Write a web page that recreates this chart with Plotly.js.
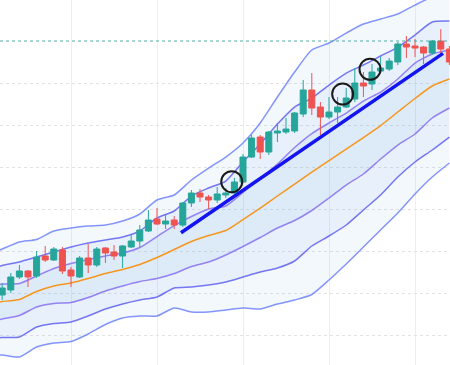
<!DOCTYPE html>
<html>
<head>
<meta charset="utf-8">
<script src="https://cdn.plot.ly/plotly-3.0.1.min.js"></script>
<style>html,body{margin:0;padding:0;background:#fff;}#chart{width:450px;height:365px;}</style>
</head>
<body>
<div id="chart"></div>
<script>
// candle positions (session index)
const sessions = [0,1,2,3,4,5,6,7,8,9,10,11,12,13,14,15,16,17,18,19,20,21,22,23,24,25,26,27,28,29,30,31,32,33,34,35,36,37,38,39,40,41,42,43,44,45,46,47,48,49,50,51,52];
const openP  = [109.74,110.93,114.01,115.44,114.25,119.00,118.05,120.43,115.68,114.01,118.53,116.86,120.90,119.95,119.00,121.14,122.56,124.94,127.79,126.60,127.55,126.36,131.59,133.96,133.01,132.30,133.49,133.96,136.58,142.51,147.26,143.70,148.21,148.45,148.69,152.73,158.43,154.39,152.01,153.20,154.39,156.29,160.09,159.85,162.94,163.41,165.08,169.35,168.88,168.64,167.21,170.06,168.16];
const highP  = [112.59,114.96,116.86,115.68,120.19,121.38,121.14,121.14,116.39,119.00,121.85,121.14,121.14,121.61,121.61,123.99,126.36,129.93,130.40,128.98,128.50,131.83,134.68,134.91,133.49,135.39,135.15,137.53,143.23,147.74,147.74,148.69,150.59,151.78,153.20,160.80,162.46,155.58,156.76,156.76,158.90,163.65,162.70,164.60,166.26,166.03,169.83,171.25,170.54,168.88,170.30,172.91,168.88];
const lowP   = [108.55,110.21,113.54,111.64,113.78,117.58,117.81,114.73,111.64,113.78,114.96,116.39,117.34,118.05,116.15,120.90,121.14,124.70,126.36,125.41,125.41,125.89,130.64,131.83,130.16,131.59,132.78,133.73,136.34,142.28,142.04,142.99,146.08,147.98,148.21,152.01,152.49,147.74,151.54,150.59,154.15,155.58,156.76,158.43,162.46,162.94,164.36,166.03,166.26,164.60,166.74,167.21,164.36];
const closeP = [111.40,114.01,115.44,114.01,118.76,118.05,120.66,115.44,114.25,118.53,116.86,120.66,119.71,119.00,121.38,122.56,125.18,127.55,126.60,127.31,126.36,131.59,133.96,133.01,132.30,133.73,133.96,136.58,142.51,147.03,143.70,148.45,148.69,149.16,152.96,158.43,154.15,152.01,153.20,154.39,156.53,160.09,159.38,162.70,163.65,165.31,169.35,168.64,168.40,167.21,170.06,168.16,165.08];

// band lines, read at every second session
const bandX  = [-0.3,0,2,4,6,8,10,12,14,16,18,20,22,24,26,28,30,32,34,36,38,40,42,44,46,48,50,52];
const maLine = [108.08,108.19,108.67,110.57,111.88,112.59,113.66,114.84,115.79,116.98,118.64,120.54,122.44,123.87,125.06,127.67,130.40,133.25,136.10,138.95,141.68,144.41,147.14,149.99,153.20,156.41,159.38,161.04];
const upper1 = [112.23,112.35,112.47,114.25,116.03,117.22,118.17,119.00,119.71,121.02,123.63,126.24,128.38,130.16,130.88,134.08,137.41,140.85,144.77,148.09,150.59,152.96,155.81,157.95,161.04,164.84,166.98,167.93];
const lower1 = [103.92,104.04,104.87,106.89,107.72,107.96,109.14,110.69,111.88,112.94,113.66,114.84,116.51,117.58,119.24,121.26,123.39,125.65,127.43,129.81,132.78,135.86,138.48,142.04,145.36,147.98,151.78,154.15];
const upper2 = [116.55,116.74,117.58,118.76,119.95,121.14,122.09,122.80,123.51,124.94,128.03,129.69,133.25,135.15,136.81,141.33,145.60,150.35,154.39,156.53,159.61,162.46,164.36,166.50,168.64,171.49,174.58,174.81];
const lower2 = [99.60,99.64,99.76,102.14,102.97,103.33,104.75,106.41,107.60,108.55,109.26,111.40,111.64,112.11,112.83,114.01,115.20,116.15,117.81,121.38,123.75,126.36,129.93,133.49,137.76,141.33,144.18,147.26];
const upper3 = [120.43,120.66,122.33,122.92,124.94,125.65,126.13,126.36,127.31,128.98,132.30,133.49,137.05,139.90,142.51,145.84,150.59,156.76,162.70,167.93,169.59,171.96,174.10,175.29,176.48,178.61,180.51,180.99];
const lower3 = [95.49,95.49,95.01,97.39,98.34,98.69,100.48,102.73,104.28,104.75,104.75,106.65,105.70,105.70,106.18,106.65,106.41,107.60,108.55,109.86,113.30,117.10,121.14,125.18,129.21,133.73,137.76,141.09];

// trend line end points
const trendX = [20.79, 51.26];
const trendY = [124.53, 167.14];
// highlighted spots
const markX = [26.69, 39.59, 42.77];
const markY = [136.65, 157.48, 163.34];
// resistance level
const levelY = 170.1;

const fillCol = 'rgba(100,170,230,0.08)';
const c1 = 'rgba(135,110,240,0.85)';
const c2 = 'rgba(95,95,240,0.85)';
const c3 = 'rgba(110,130,250,0.85)';

function band(y, color, fill) {
  return {x: bandX, y: y, type: 'scatter', mode: 'lines', hoverinfo: 'skip',
    line: {color: color, width: 1.5, shape: 'spline', smoothing: 0.6},
    fill: fill ? 'tonexty' : 'none', fillcolor: fillCol};
}

const traces = [
  band(upper3, c3, false), band(lower3, c3, true),
  band(upper2, c2, false), band(lower2, c2, true),
  band(upper1, c1, false), band(lower1, c1, true),
  {x: bandX, y: maLine, type: 'scatter', mode: 'lines', line: {color: '#f5961e', width: 1.5, shape: 'spline', smoothing: 0.6}},
  {x: sessions, open: openP, high: highP, low: lowP, close: closeP, type: 'candlestick', yaxis: 'y2',
    increasing: {line: {color: '#26a69a', width: 1}, fillcolor: '#26a69a'},
    decreasing: {line: {color: '#ef5350', width: 1}, fillcolor: '#ef5350'}},
  {x: trendX, y: trendY, type: 'scatter', mode: 'lines', yaxis: 'y2', line: {color: 'rgb(20,20,240)', width: 3.5}},
  {x: markX, y: markY, type: 'scatter', mode: 'markers', yaxis: 'y2',
    marker: {symbol: 'circle-open', size: 21, color: '#1a1a1a', line: {width: 2, color: '#1a1a1a'}}}
];

const yRange = [93.11, 179.81];
const layout = {
  width: 450, height: 365,
  margin: {l: 0, r: 0, t: 0, b: 0},
  paper_bgcolor: '#ffffff', plot_bgcolor: '#ffffff',
  showlegend: false,
  boxgap: 0.3, boxgroupgap: 0,
  xaxis: {range: [-0.256, 52.07], showticklabels: false, zeroline: false,
    tick0: 8, dtick: 10, showgrid: true, gridcolor: '#e9eff5', gridwidth: 1,
    rangeslider: {visible: false}, fixedrange: true},
  yaxis: {range: yRange, showticklabels: false, zeroline: false,
    tick0: 100, dtick: 10, showgrid: true, gridcolor: '#e3e3e3', griddash: 'dot', gridwidth: 1},
  yaxis2: {range: yRange, overlaying: 'y', showticklabels: false, showgrid: false, zeroline: false},
  shapes: [{type: 'line', xref: 'paper', x0: 0, x1: 1, yref: 'y', y0: levelY, y1: levelY,
    line: {color: 'rgba(38,166,154,0.55)', width: 1.2, dash: 'dot'}}]
};

Plotly.newPlot('chart', traces, layout, {staticPlot: true, displayModeBar: false});
</script>
</body>
</html>
